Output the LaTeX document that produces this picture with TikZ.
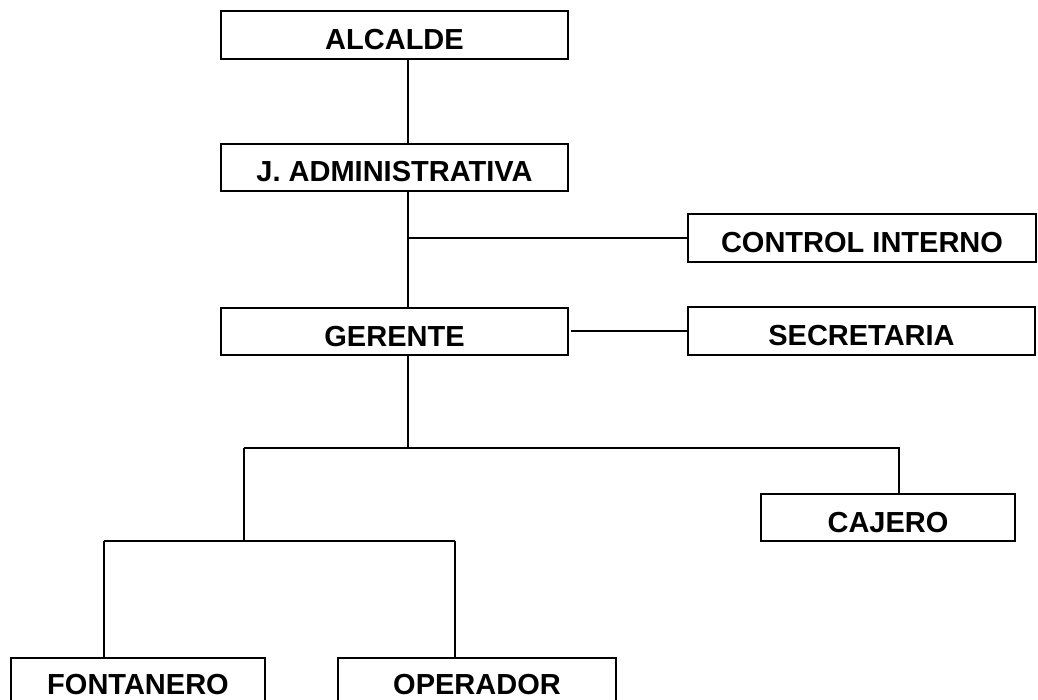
\documentclass[tikz,border=0pt]{standalone}
\usepackage{fontspec}
\setmainfont{Liberation Sans}
\begin{document}
\begin{tikzpicture}[x=1pt,y=1pt,
  orgbox/.style={draw=black, line width=1.2pt, inner sep=0pt, outer sep=0pt,
    font=\fontsize{29}{31}\selectfont\bfseries, text height=29pt, text depth=0pt},
  lowbox/.style={orgbox, text height=25pt},
  link/.style={draw=black, line width=1.2pt}]
\useasboundingbox (0,0) rectangle (1038,-700);
\clip (0,0) rectangle (1038,-700);
\node[orgbox, minimum width=347pt, minimum height=48pt] (alc) at (394.5,-35) {ALCALDE};
\node[orgbox, minimum width=347pt, minimum height=47pt] (ja) at (394.5,-167.5) {J. ADMINISTRATIVA};
\node[orgbox, minimum width=348pt, minimum height=48pt] (ci) at (862,-238) {CONTROL INTERNO};
\node[orgbox, minimum width=347pt, minimum height=47pt] (ger) at (394.5,-331.5) {GERENTE};
\node[orgbox, minimum width=347pt, minimum height=48pt] (sec) at (861.5,-331) {SECRETARIA};
\node[orgbox, minimum width=254pt, minimum height=47pt] (caj) at (888,-517.5) {CAJERO};
\node[lowbox, minimum width=254pt, minimum height=48pt] (fon) at (138,-682) {FONTANERO};
\node[lowbox, minimum width=278pt, minimum height=48pt] (ope) at (477,-682) {OPERADOR};
\coordinate (tx) at (408,0);
\coordinate (hb) at (244,-448);
\coordinate (hc) at (899,-448);
\coordinate (hd) at (244,-541);
\coordinate (fl) at (104,-541);
\coordinate (fr) at (455,-541);
\draw[link] (alc.south -| tx) -- (ja.north -| tx);
\draw[link] (ja.south -| tx) -- (ger.north -| tx);
\draw[link] (tx |- ci.west) -- (ci.west);
\draw[link] ([xshift=3pt]ger.east |- sec.west) -- (sec.west);
\draw[link] (ger.south -| tx) -- (tx |- hb);
\draw[link] (hb) -- (hc) -- (caj.north -| hc);
\draw[link] (hb) -- (hd);
\draw[link] (fl) -- (fr);
\draw[link] (fl) -- (fon.north -| fl);
\draw[link] (fr) -- (ope.north -| fr);
\end{tikzpicture}
\end{document}
